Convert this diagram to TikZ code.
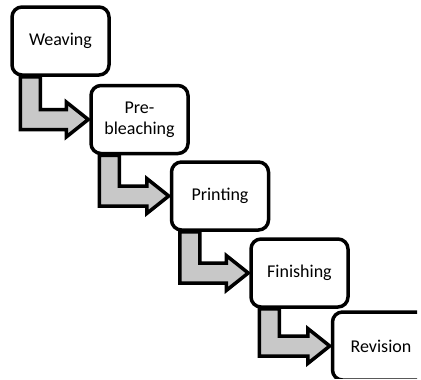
\documentclass[tikz,border=0pt]{standalone}
\usepackage{fontspec}
\setmainfont{Carlito}
\usetikzlibrary{calc}
\definecolor{arrowgray}{RGB}{200,200,200}
\begin{document}
\begin{tikzpicture}[x=1pt,y=-1pt,
  stepbox/.style={draw, line width=3.5pt, rounded corners=10pt, fill=white,
    minimum width=97pt, minimum height=68pt, align=center,
    font=\fontsize{18}{21}\selectfont, inner sep=0pt},
  bentarrow/.style={draw, line width=3.5pt, fill=arrowgray, line join=miter}]
\useasboundingbox (0,0) rectangle (421,380);
\clip (0,0) rectangle (417,378);
\node[stepbox] (a) at (60.5,41) {Weaving};
\node[stepbox] (b) at (139.5,119.5) {Pre-\\bleaching};
\node[stepbox] (c) at (220,196) {Printing};
\node[stepbox] (d) at (299.5,273) {Finishing};
\node[stepbox] (e) at (381,346) {Revision};
\foreach \s/\t in {a/b,b/c,c/d,d/e}{
  \draw[bentarrow] ($(\s.south west)+(10,0)$) |- ($(\t.west)+(-23,10)$)
    -- ++(0,7.5) -- ($(\t.west)+(-1,0)$) -- ($(\t.west)+(-23,-17.5)$)
    -- ++(0,7.5) -| ($(\s.south west)+(30,0)$) -- cycle;
}
\end{tikzpicture}
\end{document}
